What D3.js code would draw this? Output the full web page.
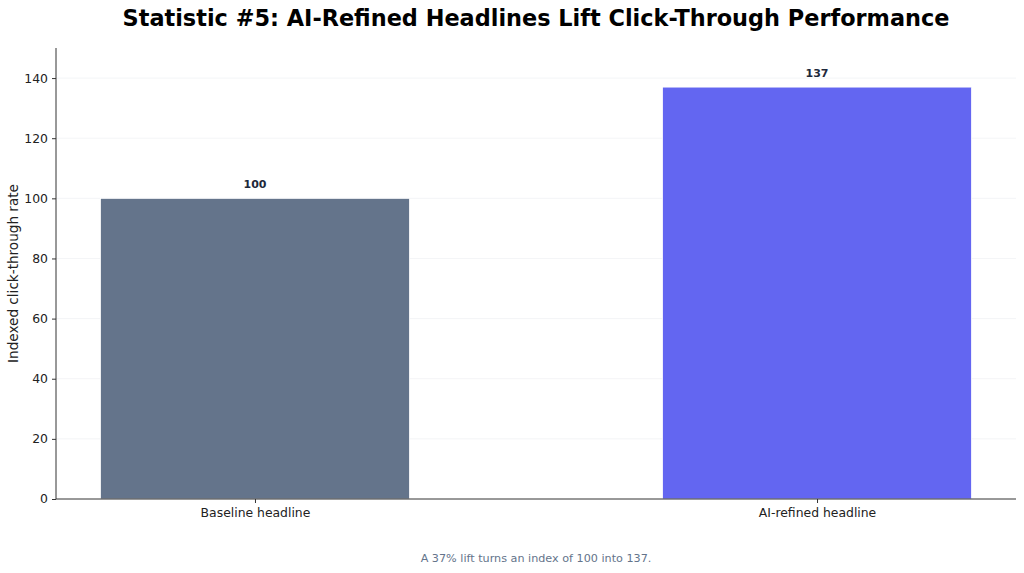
<!DOCTYPE html>
<html>
<head>
	<meta charset="UTF-8">
	<title>Statistic #5</title>
	<script src="https://cdn.jsdelivr.net/npm/d3@7"></script>
	<style>
		body { margin: 0; background: #fff; }
		svg { display: block; font-family: "DejaVu Sans", sans-serif; }
	</style>
</head>
<body>
	<script type="text/javascript">
		// data
		var categories = ["Baseline headline", "AI-refined headline"];
		var values = [100, 137];
		var colors = ["#64748b", "#6366f1"];
		var yTicks = [0, 20, 40, 60, 80, 100, 120, 140];

		var width = 1024, height = 573;
		var m = { left: 56, right: 8, top: 48, bottom: 74 };

		var svg = d3.select("body").append("svg")
			.attr("width", width)
			.attr("height", height);

		// bar positions 0 and 1, matplotlib-like margins
		var x = d3.scaleLinear()
			.domain([-0.354, 1.354])
			.range([m.left, width - m.right]);
		var y = d3.scaleLinear()
			.domain([0, 150])
			.range([height - m.bottom, m.top]);
		var barW = 0.55;

		// grid
		svg.append("g").selectAll("line")
			.data(yTicks.filter(function (d) { return d > 0; }))
			.enter().append("line")
			.attr("x1", m.left).attr("x2", width - m.right)
			.attr("y1", function (d) { return y(d); })
			.attr("y2", function (d) { return y(d); })
			.attr("stroke", "#e5e7eb")
			.attr("stroke-opacity", 0.6)
			.attr("stroke-width", 0.8);

		// bars
		svg.append("g").selectAll("rect")
			.data(values)
			.enter().append("rect")
			.attr("x", function (d, i) { return x(i - barW / 2); })
			.attr("width", function (d, i) { return x(i + barW / 2) - x(i - barW / 2); })
			.attr("y", function (d) { return y(d); })
			.attr("height", function (d) { return y(0) - y(d); })
			.attr("fill", function (d, i) { return colors[i]; })
			.attr("stroke", "#fff")
			.attr("stroke-width", 0.8);

		// value labels
		svg.append("g").selectAll("text")
			.data(values)
			.enter().append("text")
			.attr("x", function (d, i) { return x(i); })
			.attr("y", function (d) { return y(d) - 10; })
			.attr("text-anchor", "middle")
			.attr("font-size", 11)
			.attr("font-weight", "bold")
			.attr("fill", "#1e293b")
			.text(function (d) { return d; });

		// axes
		var yAxis = svg.append("g")
			.attr("transform", "translate(" + m.left + ",0)")
			.call(d3.axisLeft(y).tickValues(yTicks).tickSize(4).tickPadding(4));
		var xAxis = svg.append("g")
			.attr("transform", "translate(0," + y(0) + ")")
			.call(d3.axisBottom(x).tickValues([0, 1]).tickSize(4).tickPadding(5)
				.tickFormat(function (d) { return categories[d]; }));

		[yAxis, xAxis].forEach(function (a) {
			a.select(".domain").attr("stroke", "#333").attr("stroke-width", 1);
			a.selectAll(".tick line").attr("stroke", "#333");
			a.selectAll(".tick text")
				.attr("font-size", 12.4)
				.attr("fill", "#222")
				.style("font-family", "DejaVu Sans, sans-serif");
		});
		yAxis.select(".domain").attr("d", "M0," + y(150) + "V" + y(0));
		xAxis.select(".domain").attr("d", "M" + m.left + ",0H" + (width - m.right));

		// y label
		svg.append("text")
			.attr("transform", "translate(18," + (m.top + (y(0) - m.top) / 2) + ") rotate(-90)")
			.attr("text-anchor", "middle")
			.attr("font-size", 13.6)
			.attr("fill", "#222")
			.text("Indexed click-through rate");

		// title
		svg.append("text")
			.attr("x", 536).attr("y", 26)
			.attr("text-anchor", "middle")
			.attr("font-size", 22.4)
			.attr("font-weight", "bold")
			.attr("fill", "#000")
			.text("Statistic #5: AI-Refined Headlines Lift Click-Through Performance");

		// footnote
		svg.append("text")
			.attr("x", 536).attr("y", 562)
			.attr("text-anchor", "middle")
			.attr("font-size", 11.2)
			.attr("fill", "#64748b")
			.text("A 37% lift turns an index of 100 into 137.");
	</script>
</body>
</html>
